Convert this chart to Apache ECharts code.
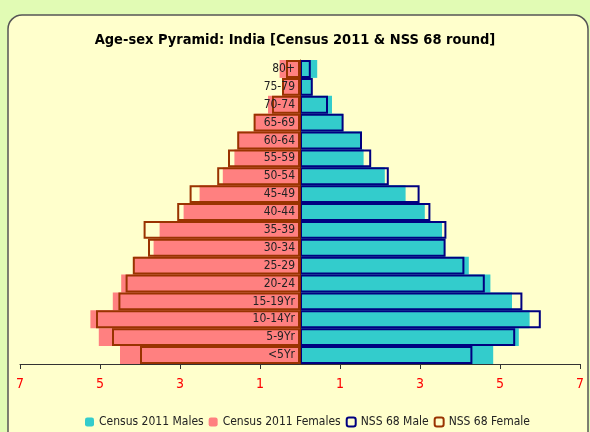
<!DOCTYPE html>
<html>
<head>
<meta charset="utf-8">
<script src="https://cdn.jsdelivr.net/npm/echarts@6/dist/echarts.min.js"></script>
<style>
html,body{margin:0;padding:0;background:#E1FBB4;}
#c{width:590px;height:432px;}
</style>
</head>
<body>
<div id="c"></div>
<script>
var ageGroups = ['<5Yr','5-9Yr','10-14Yr','15-19Yr','20-24','25-29','30-34','35-39','40-44','45-49','50-54','55-59','60-64','65-69','70-74','75-79','80+'];
var censusMales   = [4.83, 5.47, 5.74, 5.30, 4.76, 4.22, 3.62, 3.55, 3.12, 2.64, 2.12, 1.59, 1.55, 1.07, 0.80, 0.30, 0.43];
var censusFemales = [4.50, 5.03, 5.24, 4.68, 4.47, 4.15, 3.66, 3.51, 2.91, 2.51, 1.93, 1.64, 1.55, 1.14, 0.80, 0.43, 0.51];
var nssMale       = [4.31, 5.38, 6.02, 5.56, 4.62, 4.11, 3.64, 3.66, 3.26, 2.99, 2.22, 1.78, 1.55, 1.09, 0.70, 0.32, 0.27];
var nssFemale     = [4.00, 4.70, 5.10, 4.54, 4.36, 4.18, 3.80, 3.91, 3.07, 2.76, 2.07, 1.80, 1.57, 1.16, 0.70, 0.45, 0.35];
var xTickValues   = [-7, -5, -3, -1, 1, 3, 5, 7];

var FONT = "'Liberation Sans Narrow','DejaVu Sans Condensed',sans-serif";
function neg(a){ return a.map(function(v){ return -v; }); }

var GRID_LEFT = 20, GRID_RIGHT = 10, W = 590;
var plotW = W - GRID_LEFT - GRID_RIGHT;

var chart = echarts.init(document.getElementById('c'), null, {renderer:'canvas'});
chart.setOption({
  animation: false,
  backgroundColor: 'transparent',
  graphic: [{
    type: 'rect', z: -10, silent: true,
    shape: {x: 8, y: 15, width: 580, height: 440, r: 14},
    style: {fill: '#FFFFCC', stroke: '#555555', lineWidth: 1.5}
  }],
  title: {
    text: 'Age-sex Pyramid: India [Census 2011 & NSS 68 round]',
    left: 'center', top: 28,
    textStyle: {fontFamily: FONT, fontSize: 14.5, fontWeight: 'bold', color: '#000'}
  },
  legend: {
    bottom: -1, left: 80,
    itemWidth: 9, itemHeight: 9, itemGap: 5,
    textStyle: {fontFamily: FONT, fontSize: 12, color: '#222'},
    data: ['Census 2011 Males', 'Census 2011 Females', 'NSS 68 Male', 'NSS 68 Female']
  },
  grid: {left: GRID_LEFT, right: GRID_RIGHT, top: 60, bottom: 68, containLabel: false, outerBoundsMode: 'none'},
  xAxis: {
    type: 'value', min: -7, max: 7,
    splitLine: {show: false},
    axisLine: {show: true, lineStyle: {color: '#333', width: 1}},
    axisTick: {show: true, customValues: xTickValues, length: 5, lineStyle: {color: '#333'}},
    axisLabel: {
      customValues: xTickValues, margin: 13,
      formatter: function(v){ return Math.abs(v); },
      color: '#FF0000', fontFamily: FONT, fontSize: 14
    }
  },
  yAxis: {
    type: 'category', data: ageGroups, position: 'left',
    offset: -plotW / 2, z: 10,
    axisLine: {show: true, onZero: false, lineStyle: {color: '#7a2a00', width: 1}},
    axisTick: {show: false},
    axisLabel: {color: '#222', fontFamily: FONT, fontSize: 12, margin: 5}
  },
  series: [
    {name: 'Census 2011 Males', type: 'bar', data: censusMales,
     barGap: '-100%', barCategoryGap: '0%',
     itemStyle: {color: '#33CCCC'}},
    {name: 'Census 2011 Females', type: 'bar', data: neg(censusFemales),
     barGap: '-100%', barCategoryGap: '0%',
     itemStyle: {color: '#FF8080'}},
    {name: 'NSS 68 Male', type: 'bar', data: nssMale,
     barGap: '-100%', barCategoryGap: '0%', z: 3,
     itemStyle: {color: 'rgba(0,0,0,0)', borderColor: '#000080', borderWidth: 2}},
    {name: 'NSS 68 Female', type: 'bar', data: neg(nssFemale),
     barGap: '-100%', barCategoryGap: '0%', z: 3,
     itemStyle: {color: 'rgba(0,0,0,0)', borderColor: '#993300', borderWidth: 2}}
  ]
});
</script>
</body>
</html>
